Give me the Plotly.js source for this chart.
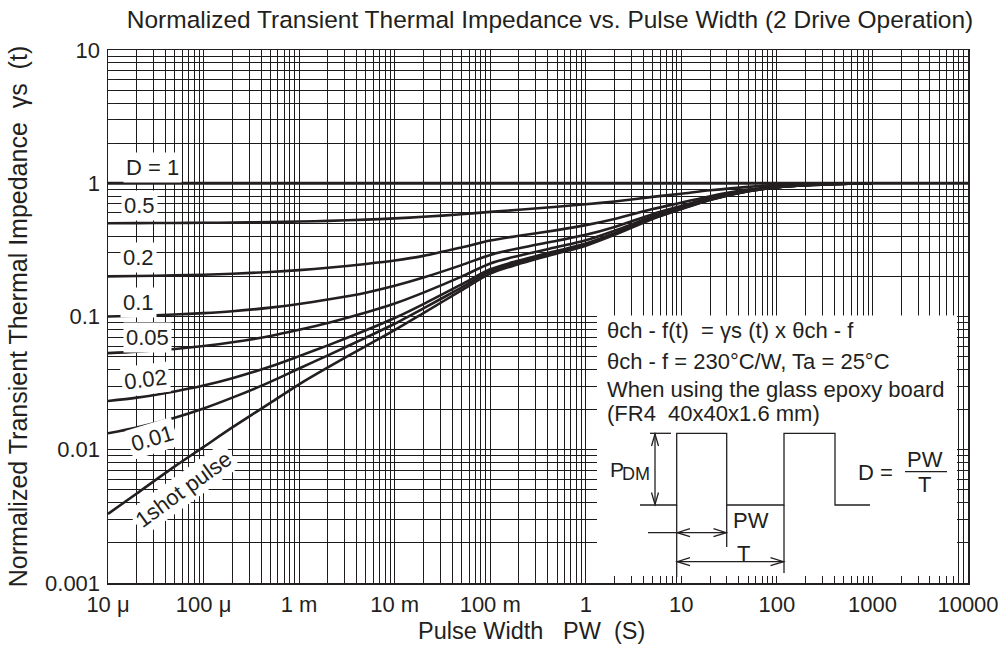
<!DOCTYPE html>
<html><head><meta charset="utf-8">
<script src="https://cdn.plot.ly/plotly-3.0.1.min.js"></script>
<style>html,body{margin:0;padding:0;background:#fff}#chart{width:1005px;height:651px}</style>
</head><body><div id="chart"></div>
<script>
// ---- data ----
const pulseWidth = [1e-5, 2e-5, 5e-5, 1e-4, 2e-4, 5e-4, 1e-3, 2e-3, 5e-3, 1e-2, 2e-2, 5e-2, 0.1, 0.2, 0.5, 1, 2, 5, 10, 20, 50, 100, 200, 500, 1000];
const oneShot = [0.0033, 0.0047, 0.0075, 0.0105, 0.0147, 0.0225, 0.031, 0.0415, 0.060, 0.079, 0.106, 0.157, 0.21, 0.248, 0.297, 0.34, 0.41, 0.54, 0.64, 0.75, 0.87, 0.93, 0.965, 0.99, 1.0];
const d001 = [0.0133, 0.0147, 0.0174, 0.0204, 0.0246, 0.0323, 0.0407, 0.0511, 0.0694, 0.0882, 0.115, 0.165, 0.218, 0.256, 0.304, 0.347, 0.416, 0.545, 0.644, 0.753, 0.871, 0.931, 0.965, 0.99, 1.0];
const d002 = [0.0232, 0.0246, 0.0274, 0.0303, 0.0344, 0.0421, 0.0504, 0.0607, 0.0788, 0.0974, 0.124, 0.174, 0.226, 0.263, 0.311, 0.353, 0.422, 0.549, 0.647, 0.755, 0.873, 0.931, 0.966, 0.99, 1.0];
const d005 = [0.0531, 0.0545, 0.0571, 0.060, 0.064, 0.0714, 0.0795, 0.0894, 0.107, 0.125, 0.151, 0.199, 0.25, 0.286, 0.332, 0.373, 0.44, 0.563, 0.658, 0.763, 0.877, 0.934, 0.967, 0.991, 1.0];
const d01 = [0.1, 0.1012, 0.1035, 0.106, 0.1095, 0.1165, 0.124, 0.134, 0.151, 0.17, 0.196, 0.243, 0.29, 0.325, 0.37, 0.41, 0.47, 0.586, 0.676, 0.775, 0.883, 0.937, 0.968, 0.991, 1.0];
const d02 = [0.2, 0.2012, 0.2035, 0.206, 0.2095, 0.216, 0.223, 0.232, 0.248, 0.263, 0.285, 0.33, 0.372, 0.403, 0.445, 0.485, 0.54, 0.64, 0.715, 0.8, 0.896, 0.944, 0.972, 0.992, 1.0];
const d05 = [0.501, 0.502, 0.5035, 0.505, 0.507, 0.511, 0.516, 0.522, 0.533, 0.545, 0.56, 0.585, 0.61, 0.632, 0.667, 0.695, 0.73, 0.79, 0.835, 0.885, 0.94, 0.968, 0.984, 0.995, 1.0];
const dOneX = [1e-5, 1e4];
const dOneY = [1, 1];

const xTickVals = [1e-5, 1e-4, 1e-3, 1e-2, 1e-1, 1, 10, 100, 1000, 10000];
const xTickText = ['10 \u03bc', '100 \u03bc', '1 m', '10 m', '100 m', '1', '10', '100', '1000', '10000'];
const yTickVals = [0.001, 0.01, 0.1, 1, 10];
const yTickText = ['0.001', '0.01', '0.1', '1', '10'];

const curveLabels = ['D = 1', '0.5', '0.2', '0.1', '0.05', '0.02', '0.01', '1shot pulse'];

// ---- styling / layout ----
const INK = '#231f20';
const F = 'Liberation Sans, Arial, Helvetica, sans-serif';
const L = 108, T = 50, W = 860, H = 533;
const px = x => (x - L) / W;
const py = y => (T + H - y) / H;
// pixel -> data value on the log axes (for the white inset panel)
const dx = x => Math.pow(10, -5 + 9 * (x - L) / W);
const dy = y => Math.pow(10, -3 + 4 * (T + H - y) / H);
function pathStr(pts) {
  return pts.map((p, i) => (i ? 'L' : 'M') + px(p[0]).toFixed(5) + ',' + py(p[1]).toFixed(5)).join(' ');
}
function lineShape(pts, w) {
  return {type: 'path', xref: 'paper', yref: 'paper', path: pathStr(pts),
          line: {color: INK, width: w || 1.3}, layer: 'above'};
}

const series = [d05, d02, d01, d005, d002, d001, oneShot];
const traces = series.map(s => ({
  x: pulseWidth, y: s, type: 'scatter', mode: 'lines',
  line: {color: INK, width: 2.6, shape: 'spline', smoothing: 0.8},
  hoverinfo: 'skip'
}));
traces.unshift({x: dOneX, y: dOneY, type: 'scatter', mode: 'lines',
  line: {color: INK, width: 3}, hoverinfo: 'skip'});

const gridCol = '#1a1a1a';
const axisCommon = {
  type: 'log', tickmode: 'array', showgrid: true, gridcolor: gridCol, gridwidth: 1,
  ticks: 'inside', ticklen: 7, tickcolor: INK, tickwidth: 1,
  showline: true, linecolor: INK, linewidth: 1.5, mirror: 'ticks', zeroline: false,
  fixedrange: true,
  minor: {dtick: 'D1', showgrid: true, gridcolor: gridCol, gridwidth: 1,
          ticks: 'inside', ticklen: 7, tickcolor: INK, tickwidth: 1},
  tickfont: {size: 22, color: INK, family: F}
};

// label annotations
const labelPos = [
  [152, 167, 0], [139, 205, 0], [138, 257, 0], [138, 302, 0],
  [147, 337, 0], [145, 379, -7], [152, 439, -17], [183, 489, -36]
];
const annotations = curveLabels.map((t, i) => ({
  xref: 'paper', yref: 'paper', x: px(labelPos[i][0]), y: py(labelPos[i][1]),
  text: t, showarrow: false, textangle: labelPos[i][2],
  bgcolor: '#fff', borderpad: 2, font: {size: 22, color: INK, family: F},
  xanchor: 'center', yanchor: 'middle'
}));

// x-axis title (placed as an annotation for exact vertical position)
annotations.push({
  xref: 'paper', yref: 'paper', x: px(531), y: py(631), showarrow: false,
  text: 'Pulse Width\u00a0\u00a0 PW\u00a0 (S)', xanchor: 'center', yanchor: 'middle',
  font: {size: 23.5, color: INK, family: F}
});

const boxText = [
  ['\u03b8ch - f(t)\u00a0 = \u03b3s (t) x \u03b8ch - f', 330.5],
  ['\u03b8ch - f = 230\u00b0C/W, Ta = 25\u00b0C', 361.5],
  ['When using the glass epoxy board', 389],
  ['(FR4\u00a0 40x40x1.6 mm)', 413.5]
];
boxText.forEach(b => annotations.push({
  xref: 'paper', yref: 'paper', x: px(605), y: py(b[1]), text: b[0], showarrow: false,
  xanchor: 'left', yanchor: 'middle', font: {size: 22, color: INK, family: F}
}));
const diagText = [
  ['P', 616.5, 469.5, 21],
  ['DM', 636, 474, 18],
  ['PW', 751, 520, 22],
  ['T', 743, 553, 22],
  ['D =', 875, 472, 22],
  ['PW', 925, 460, 22],
  ['T', 924, 484, 22]
];
diagText.forEach(d => annotations.push({
  xref: 'paper', yref: 'paper', x: px(d[1]), y: py(d[2]), text: d[0], showarrow: false,
  xanchor: 'center', yanchor: 'middle', font: {size: d[3], color: INK, family: F}
}));

const shapes = [
  {type: 'rect', xref: 'x', yref: 'y', x0: dx(597), x1: dx(957), y0: dy(583), y1: dy(315.5),
   fillcolor: '#ffffff', line: {width: 0}, layer: 'between'},
  // waveform
  lineShape([[640, 505], [676.7, 505], [676.7, 433.3], [726.7, 433.3], [726.7, 505], [784, 505], [784, 433.3], [835, 433.3], [835, 505], [870, 505]]),
  // PDM dimension
  lineShape([[650, 433.3], [671, 433.3]]),
  lineShape([[655, 434], [655, 504.5]]),
  lineShape([[651.5, 446], [655, 434], [658.5, 446]]),
  lineShape([[651.5, 492.5], [655, 504.5], [658.5, 492.5]]),
  // extension lines
  lineShape([[676.7, 505], [676.7, 577]]),
  lineShape([[726.7, 505], [726.7, 547]]),
  lineShape([[784, 505], [784, 573]]),
  // PW arrow
  lineShape([[648, 532.7], [726.7, 532.7]]),
  lineShape([[690, 528.7], [677.2, 532.7], [690, 536.7]]),
  lineShape([[713.5, 528.7], [726.2, 532.7], [713.5, 536.7]]),
  // T arrow
  lineShape([[677.2, 561.7], [783.5, 561.7]]),
  lineShape([[690, 557.7], [677.2, 561.7], [690, 565.7]]),
  lineShape([[770.5, 557.7], [783.5, 561.7], [770.5, 565.7]]),
  // fraction bar
  lineShape([[905, 471.7], [947, 471.7]])
];

const layout = {
  width: 1005, height: 651,
  margin: {l: L, r: 1005 - L - W, t: T, b: 651 - T - H},
  paper_bgcolor: '#fff', plot_bgcolor: '#fff',
  showlegend: false,
  font: {family: F, size: 22, color: INK},
  title: {text: 'Normalized Transient Thermal Impedance vs. Pulse Width (2 Drive Operation)',
          font: {size: 24.5, color: INK, family: F}, xref: 'paper', x: px(550), xanchor: 'center',
          yref: 'container', y: 1 - 19 / 651, yanchor: 'middle'},
  xaxis: Object.assign({}, axisCommon, {
    range: [-5, 4], tickvals: xTickVals, ticktext: xTickText, ticklabelstandoff: 1
  }),
  yaxis: Object.assign({}, axisCommon, {
    range: [-3, 1], tickvals: yTickVals, ticktext: yTickText, ticklabelstandoff: 2,
    title: {text: 'Normalized Transient Thermal Impedance\u00a0 \u03b3s\u00a0 (t)', font: {size: 25, color: INK, family: F}, standoff: 10}
  }),
  shapes: shapes,
  annotations: annotations
};

Plotly.newPlot('chart', traces, layout, {staticPlot: true, displayModeBar: false});
</script></body></html>
